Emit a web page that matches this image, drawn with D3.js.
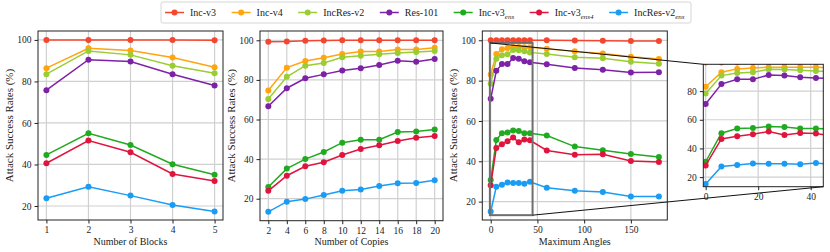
<!DOCTYPE html>
<html>
<head>
<meta charset="utf-8">
<script src="https://cdn.jsdelivr.net/npm/d3@7"></script>
<style>
  body { margin: 0; background: #fff; }
  text { font-family: "Liberation Serif", "Times New Roman", serif; fill: #222; }
  .grid line { stroke: #d0d0d0; stroke-width: 1.2; }
  .tick line { stroke: #222; }
  .domain { display: none; }
</style>
</head>
<body>
<div id="chart"></div>
<script>
// series names + colours
var MODELS = ['Inc-v3', 'Inc-v4', 'IncRes-v2', 'Res-101', 'Inc-v3ens', 'Inc-v3ens4', 'IncRes-v2ens'];
var COLORS = ['#f4472f', '#ffa50f', '#9acd32', '#7d22a6', '#20aa20', '#e0153e', '#1a9cf5'];

// panel 1: number of blocks
var blocks = [1, 2, 3, 4, 5];
var blocks_incv3 = [100, 100, 100, 100, 99.8];
var blocks_incv4 = [86.4, 96.0, 94.9, 91.5, 86.8];
var blocks_incresv2 = [83.5, 94.7, 92.8, 87.6, 83.9];
var blocks_res101 = [75.8, 90.5, 89.6, 83.5, 78.0];
var blocks_incv3ens = [44.6, 55.0, 49.4, 40.1, 35.0];
var blocks_incv3ens4 = [40.6, 51.5, 45.9, 35.4, 32.0];
var blocks_incresv2ens = [23.7, 29.3, 25.0, 20.5, 17.3];

// panel 2: number of copies
var copies = [2, 4, 6, 8, 10, 12, 14, 16, 18, 20];
var copies_incv3 = [99.3, 99.4, 99.8, 99.9, 100, 100, 100, 100, 100, 100];
var copies_incv4 = [74.7, 86.2, 89.5, 91.2, 93.1, 94.3, 94.3, 95.3, 95.3, 96.3];
var copies_incresv2 = [70.4, 81.6, 87.2, 88.5, 91.4, 92.2, 92.9, 93.6, 94.1, 94.6];
var copies_res101 = [66.7, 75.8, 80.8, 82.8, 84.7, 85.9, 87.5, 89.7, 89.2, 90.6];
var copies_incv3ens = [25.9, 35.2, 40.0, 43.6, 48.3, 49.8, 49.8, 53.7, 53.9, 55.0];
var copies_incv3ens4 = [24.0, 31.6, 36.4, 38.4, 42.1, 45.1, 47.0, 49.2, 50.8, 51.7];
var copies_incresv2ens = [13.4, 18.5, 19.8, 21.9, 24.0, 24.7, 26.4, 27.8, 28.0, 29.3];

// panel 3: maximum angles
var angles = [0, 6, 12, 18, 24, 30, 36, 42, 60, 90, 120, 150, 180];
var angles_incv3 = [100, 100, 100, 100, 100, 100, 100, 100, 100, 99.9, 99.8, 99.7, 99.7];
var angles_incv4 = [83.0, 93.2, 95.5, 96.2, 96.7, 96.7, 96.6, 96.6, 95.8, 94.5, 93.5, 91.8, 90.7];
var angles_incresv2 = [78.4, 90.8, 92.6, 93.1, 95.2, 95.0, 94.6, 94.0, 93.2, 91.6, 91.1, 89.4, 88.4];
var angles_res101 = [71.0, 84.9, 88.2, 88.2, 91.2, 90.8, 89.6, 89.1, 88.1, 86.3, 85.4, 84.0, 84.2];
var angles_incv3ens = [30.7, 50.6, 53.9, 54.3, 55.3, 55.0, 53.9, 53.9, 52.8, 47.3, 45.5, 43.6, 42.1];
var angles_incv3ens4 = [28.1, 46.6, 48.5, 49.9, 51.8, 49.4, 50.8, 50.4, 45.4, 43.2, 43.5, 40.2, 39.6];
var angles_incresv2ens = [15.1, 27.4, 28.4, 29.5, 29.3, 29.3, 28.9, 29.9, 26.9, 25.4, 24.8, 22.6, 22.6];

var svg = d3.select('#chart').append('svg')
  .attr('width', 830).attr('height', 252);

var panels = [
  { xs: blocks, xdom: [0.8, 5.2], ydom: [13.25, 104.3], x0: 38, x1: 223, y0: 31, y1: 220,
    xticks: blocks, yticks: [20, 40, 60, 80, 100], label: 'Number of Blocks',
    series: [blocks_incv3, blocks_incv4, blocks_incresv2, blocks_res101, blocks_incv3ens, blocks_incv3ens4, blocks_incresv2ens] },
  { xs: copies, xdom: [1.1, 20.9], ydom: [8.9, 104.7], x0: 260, x1: 443, y0: 31, y1: 220.7,
    xticks: copies, yticks: [20, 40, 60, 80, 100], label: 'Number of Copies',
    series: [copies_incv3, copies_incv4, copies_incresv2, copies_res101, copies_incv3ens, copies_incv3ens4, copies_incresv2ens] },
  { xs: angles, xdom: [-9, 189], ydom: [10.9, 104.6], x0: 482.3, x1: 667.3, y0: 31, y1: 220,
    xticks: [0, 50, 100, 150], yticks: [20, 40, 60, 80, 100], label: 'Maximum Angles',
    series: [angles_incv3, angles_incv4, angles_incresv2, angles_res101, angles_incv3ens, angles_incv3ens4, angles_incresv2ens] }
];

// inset zoom of panel 3
var inset = { xs: angles, xdom: [-0.9, 44.8], ydom: [13.3, 98.7], x0: 703.3, x1: 823.3, y0: 64.3, y1: 186.7,
  xticks: [0, 20, 40], yticks: [20, 40, 60, 80], label: null, clip: true,
  series: panels[2].series };

function drawPanel(p, idx) {
  var x = d3.scaleLinear().domain(p.xdom).range([p.x0, p.x1]);
  var y = d3.scaleLinear().domain(p.ydom).range([p.y1, p.y0]);
  var g = svg.append('g');

  // grid
  var grid = g.append('g').attr('class', 'grid');
  grid.selectAll('.gx').data(p.xticks).enter().append('line')
    .attr('x1', d => x(d)).attr('x2', d => x(d)).attr('y1', p.y0).attr('y2', p.y1);
  grid.selectAll('.gy').data(p.yticks).enter().append('line')
    .attr('y1', d => y(d)).attr('y2', d => y(d)).attr('x1', p.x0).attr('x2', p.x1);

  // axes
  g.append('g').attr('transform', 'translate(0,' + p.y1 + ')')
    .call(d3.axisBottom(x).tickValues(p.xticks).tickSize(3.5).tickPadding(3).tickFormat(d3.format('d')))
    .attr('font-family', null)
    .selectAll('text').style('font-size', '9.5px');
  g.append('g').attr('transform', 'translate(' + p.x0 + ',0)')
    .call(d3.axisLeft(y).tickValues(p.yticks).tickSize(3.5).tickPadding(3).tickFormat(d3.format('d')))
    .attr('font-family', null)
    .selectAll('text').style('font-size', '9.5px');

  var body = g.append('g');
  if (p.clip) {
    svg.append('clipPath').attr('id', 'clip' + idx).append('rect')
      .attr('x', p.x0).attr('y', p.y0).attr('width', p.x1 - p.x0).attr('height', p.y1 - p.y0);
    body.attr('clip-path', 'url(#clip' + idx + ')');
  }

  var line = d3.line().x((d, i) => x(p.xs[i])).y(d => y(d));
  p.series.forEach(function(vals, s) {
    body.append('path').datum(vals)
      .attr('fill', 'none').attr('stroke', COLORS[s]).attr('stroke-width', 1.5)
      .attr('d', line);
    body.selectAll(null).data(vals).enter().append('circle')
      .attr('cx', (d, i) => x(p.xs[i])).attr('cy', d => y(d)).attr('r', 3)
      .attr('fill', COLORS[s]);
  });

  // frame
  g.append('rect').attr('x', p.x0).attr('y', p.y0)
    .attr('width', p.x1 - p.x0).attr('height', p.y1 - p.y0)
    .attr('fill', 'none').attr('stroke', '#222').attr('stroke-width', 1);

  if (p.label) {
    g.append('text').attr('x', (p.x0 + p.x1) / 2).attr('y', 245)
      .attr('text-anchor', 'middle').style('font-size', '10px').text(p.label);
    g.append('text')
      .attr('transform', 'translate(' + (p.x0 - 25) + ',' + ((p.y0 + p.y1) / 2) + ') rotate(-90)')
      .attr('text-anchor', 'middle').style('font-size', '11px').text('Attack Success Rates (%)');
  }
  return { x: x, y: y };
}

var sc = panels.map(drawPanel);
drawPanel(inset, 3);

// zoom indicator on panel 3 + connectors
var px = sc[2].x, py = sc[2].y;
var rx0 = px(inset.xdom[0]), rx1 = px(inset.xdom[1]);
var ry0 = py(inset.ydom[1]), ry1 = py(inset.ydom[0]);
svg.append('rect').attr('x', rx0).attr('y', ry0)
  .attr('width', rx1 - rx0).attr('height', ry1 - ry0)
  .attr('fill', 'none').attr('stroke', '#6e6e6e').attr('stroke-width', 2);
svg.append('line').attr('x1', rx0).attr('y1', ry0).attr('x2', inset.x0).attr('y2', inset.y0)
  .attr('stroke', '#111').attr('stroke-width', 1);
svg.append('line').attr('x1', rx1).attr('y1', ry1).attr('x2', inset.x1).attr('y2', inset.y1)
  .attr('stroke', '#111').attr('stroke-width', 1);

// legend
var leg = svg.append('g');
var box = leg.append('rect').attr('y', 2).attr('height', 21).attr('rx', 2)
  .attr('fill', '#fff').attr('stroke', '#d6d6d6');
var cx = 165;
MODELS.forEach(function(name, i) {
  var item = leg.append('g');
  item.append('line').attr('x1', cx).attr('x2', cx + 19).attr('y1', 12.5).attr('y2', 12.5)
    .attr('stroke', COLORS[i]).attr('stroke-width', 1.5);
  item.append('circle').attr('cx', cx + 9.5).attr('cy', 12.5).attr('r', 3).attr('fill', COLORS[i]);
  var t = item.append('text').attr('x', cx + 25).attr('y', 16).style('font-size', '10px');
  var m = name.match(/^(.*?)(ens4?)$/);
  if (m) {
    t.append('tspan').text(m[1]);
    t.append('tspan').attr('dy', 2.5).style('font-size', '7px').style('font-style', 'italic').text(m[2]);
  } else {
    t.text(name);
  }
  cx += 25 + t.node().getComputedTextLength() + 15.5;
});
box.attr('x', 161).attr('width', cx - 161 - 9);
</script>
</body>
</html>
